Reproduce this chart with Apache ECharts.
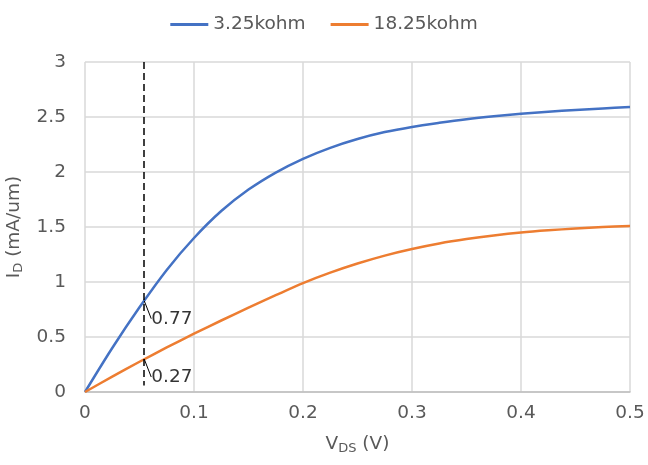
<!DOCTYPE html>
<html>
<head>
<meta charset="utf-8">
<script src="https://cdn.jsdelivr.net/npm/echarts@6/dist/echarts.min.js"></script>
<style>html,body{margin:0;padding:0;background:#fff}#c{width:648px;height:465px}</style>
</head>
<body>
<div id="c"></div>
<script>
// ---- data ----
var seriesNames = ['3.25kohm', '18.25kohm'];
var vds      = [0, 0.025, 0.05, 0.075, 0.1, 0.125, 0.15, 0.175, 0.2, 0.225, 0.25, 0.275, 0.3, 0.325, 0.35, 0.375, 0.4, 0.425, 0.45, 0.475, 0.5];
var idBlue   = [0, 0.40, 0.77, 1.11, 1.40, 1.645, 1.84, 1.995, 2.12, 2.22, 2.30, 2.363, 2.41, 2.447, 2.48, 2.507, 2.53, 2.548, 2.564, 2.578, 2.59];
var idOrange = [0, 0.14, 0.275, 0.405, 0.53, 0.65, 0.767, 0.88, 0.99, 1.085, 1.168, 1.24, 1.30, 1.35, 1.39, 1.423, 1.45, 1.47, 1.486, 1.499, 1.51];
var markerVds = 0.0543;
var markerTop = 3;
var markerBottom = 0.06;
var annotPoints = [[0.0543, 0.83], [0.0543, 0.30]];
var annotTexts  = ['0.77', '0.27'];

function pairs(xs, ys) { return xs.map(function (x, i) { return [x, ys[i]]; }); }

var FONT = 'DejaVu Sans, sans-serif';
var FS = 18.5;
var chart = echarts.init(document.getElementById('c'), null, {renderer: 'canvas'});
chart.setOption({
  animation: false,
  backgroundColor: '#fff',
  textStyle: {fontFamily: FONT},
  legend: {
    top: 10, left: 'center',
    icon: 'rect', itemWidth: 38, itemHeight: 3, itemGap: 25,
    textStyle: {fontSize: FS, color: '#595959', fontFamily: FONT},
    data: seriesNames
  },
  grid: {left: 85, right: 18, top: 62, bottom: 73, containLabel: false, outerBoundsMode: 'none'},
  xAxis: {
    type: 'value', min: 0, max: 0.5, interval: 0.1,
    name: '{a|V}{s|DS}{a| (V)}', nameLocation: 'middle', nameGap: 42,
    nameTextStyle: {color: '#595959', rich: {
      a: {fontSize: FS, color: '#595959', fontFamily: FONT},
      s: {fontSize: 13, color: '#595959', fontFamily: FONT, verticalAlign: 'bottom', padding: [8, 0, 0, 0]}
    }},
    axisLine: {show: true, lineStyle: {color: '#BFBFBF', width: 1.5}},
    axisTick: {show: false},
    axisLabel: {fontSize: FS, color: '#595959', margin: 12, fontFamily: FONT},
    splitLine: {show: true, lineStyle: {color: '#D9D9D9', width: 1.5}}
  },
  yAxis: {
    type: 'value', min: 0, max: 3, interval: 0.5,
    name: '{a|I}{s|D}{a| (mA/um)}', nameLocation: 'middle', nameGap: 60, nameRotate: 90,
    nameTextStyle: {color: '#595959', rich: {
      a: {fontSize: FS, color: '#595959', fontFamily: FONT},
      s: {fontSize: 13, color: '#595959', fontFamily: FONT, verticalAlign: 'bottom', padding: [8, 0, 0, 0]}
    }},
    axisLine: {show: false},
    axisTick: {show: false},
    axisLabel: {fontSize: FS, color: '#595959', margin: 19, fontFamily: FONT},
    splitLine: {show: true, lineStyle: {color: '#D9D9D9', width: 1.5}}
  },
  series: [
    {
      name: seriesNames[0], type: 'line', smooth: 0.3, symbol: 'none',
      data: pairs(vds, idBlue),
      lineStyle: {color: '#4472C4', width: 2.5}, itemStyle: {color: '#4472C4'},
      markLine: {
        silent: true, symbol: 'none', label: {show: false},
        lineStyle: {color: '#000', type: [7, 4], width: 1.5},
        data: [[{coord: [markerVds, markerTop]}, {coord: [markerVds, markerBottom]}]]
      },
      z: 3
    },
    {
      name: seriesNames[1], type: 'line', smooth: 0.3, symbol: 'none',
      data: pairs(vds, idOrange),
      lineStyle: {color: '#ED7D31', width: 2.5}, itemStyle: {color: '#ED7D31'},
      z: 3
    },
    {
      type: 'scatter', symbolSize: 0.1, silent: true,
      data: annotPoints.map(function (p, i) { return {value: p, name: annotTexts[i]}; }),
      label: {
        show: true, position: 'right', distance: 0,
        formatter: function (p) { return p.name; },
        fontSize: FS, color: '#000', fontFamily: FONT
      },
      labelLayout: {dx: 7, dy: 18},
      labelLine: {show: true, length2: 0, lineStyle: {color: '#000', width: 1}},
      z: 5
    }
  ]
});
</script>
</body>
</html>
